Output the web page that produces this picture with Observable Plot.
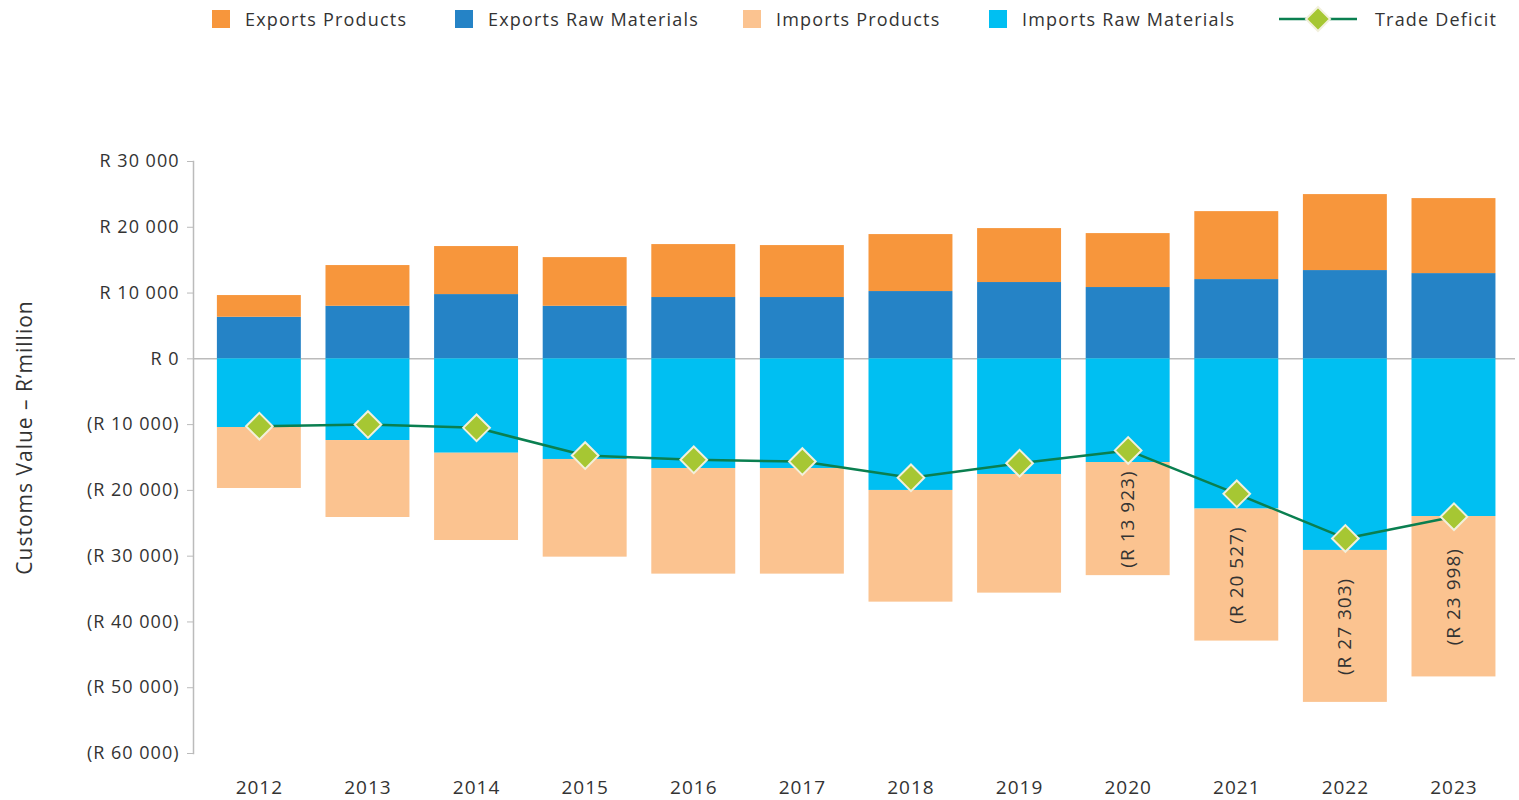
<!DOCTYPE html>
<html>
<head>
<meta charset="utf-8">
<script src="https://cdn.jsdelivr.net/npm/d3@7"></script>
<script src="https://cdn.jsdelivr.net/npm/@observablehq/plot@0.6"></script>
<style>
  html, body { margin: 0; padding: 0; background: #fff; overflow: hidden; }
  body { font-family: "Open Sans", sans-serif; color: #333; }
  #legend { position: relative; height: 40px; width: 1519px; font-size: 18px; letter-spacing: 1.2px; }
  .li { position: absolute; top: 8px; display: flex; align-items: center; height: 22px; white-space: nowrap; }
  .sw { width: 18px; height: 18px; display: inline-block; }
  #chart svg text { letter-spacing: 1px; }
  svg [aria-label="y-axis tick"] { stroke: #bbb; }
</style>
</head>
<body>
<div id="legend"></div>
<div id="chart"></div>
<script>
const years = ["2012","2013","2014","2015","2016","2017","2018","2019","2020","2021","2022","2023"];
const exportsRaw      = [6320, 7990, 9770, 7990, 9320, 9320, 10230, 11600, 10840, 12050, 13420, 12960];
const exportsProducts = [3300, 6190, 7300, 7400, 8050, 7900, 8660, 8200, 8200, 10330, 11550, 11400];
const importsRaw      = [10440, 12420, 14350, 15300, 16670, 16670, 20010, 17580, 15760, 22840, 29130, 23970];
const importsProducts = [9270, 11700, 13270, 14850, 16060, 16060, 16980, 18040, 17200, 20070, 23100, 24390];
const tradeDeficit    = [-10240, -9990, -10490, -14700, -15350, -15610, -18090, -15870, -13923, -20527, -27303, -23998];
const labelledYears   = ["2020","2021","2022","2023"];
const yTicks = [30000, 20000, 10000, 0, -10000, -20000, -30000, -40000, -50000, -60000];

const seriesNames  = ["Exports Products", "Exports Raw Materials", "Imports Products", "Imports Raw Materials"];
const seriesColors = ["#F7963C", "#2583C6", "#FBC390", "#00BFF2"];
const lineColor = "#0A7F50", diamondColor = "#A6C733", diamondStroke = "#F2F0DC";

const grp = d3.format(",");
const num = v => grp(v).replace(/,/g, " ");
const fmtR = v => v < 0 ? `(R ${num(-v)})` : `R ${num(v)}`;

// long table for stacking: order = raw first (next to zero), then products
const rows = [];
years.forEach((y, i) => {
  rows.push({year: y, series: "Exports Raw Materials", value: exportsRaw[i]});
  rows.push({year: y, series: "Exports Products", value: exportsProducts[i]});
  rows.push({year: y, series: "Imports Raw Materials", value: -importsRaw[i]});
  rows.push({year: y, series: "Imports Products", value: -importsProducts[i]});
});
const deficit = years.map((y, i) => ({year: y, value: tradeDeficit[i]}));
const labels = labelledYears.map(y => {
  const i = years.indexOf(y);
  return {year: y, mid: -(importsRaw[i] + importsProducts[i] / 2), text: fmtR(tradeDeficit[i])};
});

// legend
const legend = document.getElementById("legend");
const legendLefts = [212, 455, 743, 989];
seriesNames.forEach((n, i) => {
  const d = document.createElement("div");
  d.className = "li";
  d.style.left = legendLefts[i] + "px";
  d.innerHTML = `<span class="sw" style="background:${seriesColors[i]}"></span><span style="margin-left:15px">${n}</span>`;
  legend.appendChild(d);
});
{
  const d = document.createElement("div");
  d.className = "li";
  d.style.left = "1279px";
  d.innerHTML = `<svg width="78" height="30" style="overflow:visible"><line x1="0" x2="78" y1="15" y2="15" stroke="${lineColor}" stroke-width="2.5"/><path d="M39,3 L51,15 L39,27 L27,15 Z" fill="${diamondColor}" stroke="${diamondStroke}" stroke-width="2"/></svg><span style="margin-left:18px">Trade Deficit</span>`;
  legend.appendChild(d);
}

const chart = Plot.plot({
  width: 1519,
  height: 760,
  marginLeft: 193,
  marginRight: 4,
  marginTop: 121,
  marginBottom: 47,
  style: {fontFamily: "Open Sans, sans-serif", color: "#333", background: "#fff"},
  x: {type: "band", domain: years, paddingInner: 0.227, paddingOuter: 0.2, align: 0.55, round: false, label: null},
  y: {domain: [-60000, 30000], label: null},
  color: {domain: seriesNames, range: seriesColors},
  marks: [
    Plot.ruleY([0], {stroke: "#bbb", strokeWidth: 1.5}),
    Plot.frame({anchor: "left", stroke: "#bbb", strokeWidth: 1.5}),
    Plot.barY(rows, {x: "year", y: "value", fill: "series", order: null}),
    Plot.axisY({ticks: yTicks, tickFormat: fmtR, tickSize: 6, tickPadding: 8, fontSize: 18, label: null}),
    Plot.axisX({tickSize: 0, tickPadding: 27, fontSize: 19, label: null}),
    Plot.text(["Customs Value – R’million"], {frameAnchor: "left", dx: -168, dy: -20, rotate: -90, textAnchor: "middle", fontSize: 21, fill: "#333"}),
    Plot.line(deficit, {x: "year", y: "value", stroke: lineColor, strokeWidth: 2.5}),
    Plot.dot(deficit, {x: "year", y: "value", symbol: "diamond2", r: 12, fill: diamondColor, stroke: diamondStroke, strokeWidth: 2}),
    Plot.text(labels, {x: "year", y: "mid", text: "text", rotate: -90, textAnchor: "middle", lineAnchor: "middle", fontSize: 19, fill: "#333"})
  ]
});
document.getElementById("chart").appendChild(chart);
</script>
</body>
</html>
